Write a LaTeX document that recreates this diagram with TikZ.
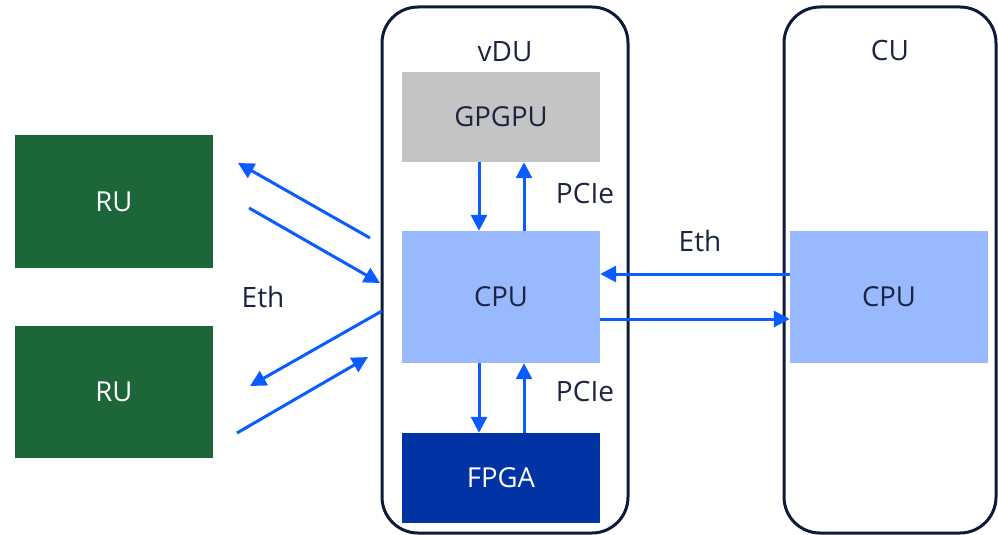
\documentclass[tikz,border=0pt]{standalone}
\usepackage{fontspec}
\setmainfont{Open Sans}
\usetikzlibrary{arrows.meta,calc}
\definecolor{navy}{HTML}{1B2441}
\definecolor{frame}{HTML}{0E1A3A}
\definecolor{arrblue}{HTML}{0A5CFF}
\definecolor{cpufill}{HTML}{99B9FF}
\definecolor{gpufill}{HTML}{C4C4C4}
\definecolor{fpgafill}{HTML}{0034A5}
\definecolor{rufill}{HTML}{1C6639}
\tikzset{
  container/.style={draw=frame,line width=3pt,rounded corners=36pt,minimum width=#1,minimum height=526pt,inner sep=0pt},
  blockbox/.style={minimum width=198pt,minimum height=#1,inner sep=0pt,font=\fontsize{27.5}{31}\selectfont},
  arr/.style={draw=arrblue,line width=3pt,-{Triangle[length=16pt,width=16pt]}},
  lbl/.style={text=navy,font=\fontsize{28}{32}\selectfont,inner sep=0pt}
}
\begin{document}
\begin{tikzpicture}[x=1pt,y=-1pt]
\useasboundingbox (0,0) rectangle (998,535);
% containers
\node[container=246pt] (vdu) at (505,270) {};
\node[container=212pt] (cu) at (890,270) {};
\node[lbl] (vdul) at (505,52) {vDU};
\node[lbl] (cul) at (890,50) {CU};
% blocks
\node[blockbox=90pt,fill=gpufill,text=navy] (gpgpu) at (501,117) {GPGPU};
\node[blockbox=132pt,fill=cpufill,text=navy] (cpu) at (501,297) {CPU};
\node[blockbox=90pt,fill=fpgafill,text=white] (fpga) at (501,478) {FPGA};
\node[blockbox=132pt,fill=cpufill,text=navy] (cucpu) at (889,297) {CPU};
\node[blockbox=133pt,fill=rufill,text=white] (ru1) at (114,201.5) {RU};
\node[blockbox=132pt,fill=rufill,text=white] (ru2) at (114,392) {RU};
% labels
\node[lbl] (pcie1) at (585,193) {PCIe};
\node[lbl] (pcie2) at (585,391) {PCIe};
\node[lbl] (eth1) at (700,241) {Eth};
\node[lbl] (eth2) at (263,297) {Eth};
% PCIe arrows
\draw[arr] ([xshift=-22pt]gpgpu.south) -- ([xshift=-22pt]cpu.north);
\draw[arr] ([xshift=23pt]cpu.north) -- ([xshift=23pt]gpgpu.south);
\draw[arr] ([xshift=-22pt]cpu.south) -- ([xshift=-22pt]fpga.north);
\draw[arr] ([xshift=23pt]fpga.north) -- ([xshift=23pt]cpu.south);
% Eth arrows CPU-CU
\draw[arr] ([yshift=23pt]cucpu.west) -- ([yshift=23pt]cpu.east);
\draw[arr] ([yshift=-22pt]cpu.east) -- ([yshift=-22pt]cucpu.west);
% RU arrows
\coordinate (a1s) at (370,238);
\coordinate (a1e) at (238,163);
\coordinate (a2s) at (249,208);
\coordinate (a2e) at (380,283);
\coordinate (a3s) at (382,311);
\coordinate (a3e) at (250,386);
\coordinate (a4s) at (237,433);
\coordinate (a4e) at (368,357);
\draw[arr] (a1s) -- (a1e);
\draw[arr] (a2s) -- (a2e);
\draw[arr] (a3s) -- (a3e);
\draw[arr] (a4s) -- (a4e);
\end{tikzpicture}
\end{document}
